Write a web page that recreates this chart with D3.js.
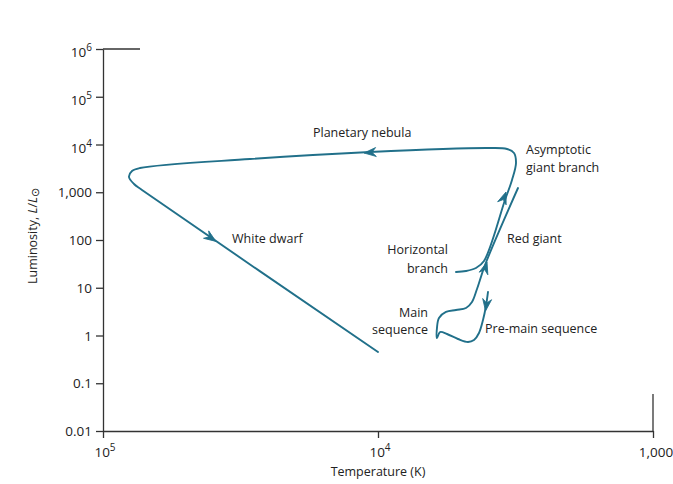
<!DOCTYPE html>
<html>
<head>
<meta charset="utf-8">
<script src="https://cdn.jsdelivr.net/npm/d3@7"></script>
<style>
body { margin: 0; background: #fff; }
text { font-family: "Open Sans", Lato, sans-serif; fill: #222; }
</style>
</head>
<body>
<svg id="chart" width="673" height="484"></svg>
<script>
var xTicks = [1e5, 1e4, 1e3];
var xTickLabels = ["10^5", "10^4", "1,000"];
var yTicks = [0.01, 0.1, 1, 10, 100, 1000, 1e4, 1e5, 1e6];
var yTickLabels = ["0.01", "0.1", "1", "10", "100", "1,000", "10^4", "10^5", "10^6"];

// pre-main sequence -> main sequence -> red giant tip   [T (K), L/Lsun]
var earlyTrack = [[3981, 8.15], [4049, 4.15], [4151, 2.11], [4293, 1.13], [4476, 0.805], [4707, 0.731],
    [5118, 0.845], [5612, 1.075], [5950, 1.18], [6103, 0.886], [6103, 1.44], [6001, 2.33], [5660, 3.11],
    [5205, 3.42], [4786, 3.77], [4552, 5.03], [4365, 9.42], [4081, 30.0], [3097, 1227]];

// horizontal branch -> asymptotic giant branch -> planetary nebula -> white dwarf
var lateTrack = [[5205, 21.4], [4786, 22.4], [4402, 25.9], [4117, 36.3], [3453, 688], [3256, 1805],
    [3149, 4100], [3202, 6637], [3395, 8051], [3915, 8450], [10693, 6966], [29214, 4970], [73370, 3220],
    [78440, 2786], [80450, 2086], [77140, 1489], [72140, 1115], [10000, 0.451]];

// direction arrows: [tail T, tail L, tip T, tip L]
var arrows = [[10168, 6966, 11242, 6637], [42220, 130.4, 38830, 93.5], [3541, 595.5, 3424, 1012],
    [4117, 21.4, 4014, 34.6], [4014, 5.54, 4064, 3.26]];

// annotations: [text, T, L, anchor]
var labels = [
    ["Planetary nebula", 17238, 14354, "start"],
    ["Asymptotic", 2896, 6324, "start"],
    ["giant branch", 2896, 2656, "start"],
    ["Red giant", 3395, 86.6, "start"],
    ["Horizontal", 5566, 50.9, "end"],
    ["branch", 5566, 20.4, "end"],
    ["Main", 6579, 2.44, "end"],
    ["sequence", 6579, 1.075, "end"],
    ["Pre-main sequence", 4081, 1.128, "start"],
    ["White dwarf", 33950, 86.6, "start"]
];

var lineColor = "#21708a";
var axisColor = "#333";

var svg = d3.select("#chart");

var x = d3.scaleLog().domain([1e5, 1e3]).range([103, 653]);
var y = d3.scaleLog().domain([0.01, 1e6]).range([431, 49]);

// writes "10^4" as 10 with a raised 4
function powerLabel(sel, s) {
    var parts = s.split("^");
    sel.append("tspan").text(parts[0]);
    if (parts.length > 1) {
        sel.append("tspan").attr("dy", -6).attr("font-size", 10).text(parts[1]);
    }
}

// axes
var yAxis = svg.append("g").attr("transform", "translate(" + x(1e5) + ",0)")
    .call(d3.axisLeft(y).tickValues(yTicks).tickSize(7).tickSizeOuter(0).tickFormat(""));
var xAxis = svg.append("g").attr("transform", "translate(0," + y(0.01) + ")")
    .call(d3.axisBottom(x).tickValues(xTicks).tickSize(7).tickSizeOuter(0).tickFormat(""));
[yAxis, xAxis].forEach(function(a) {
    a.selectAll("path, line").attr("stroke", axisColor).attr("stroke-width", 1.3);
});

// stubs at the far ends of both axes
svg.append("line").attr("x1", x(1e5)).attr("x2", x(1e5) + 37)
    .attr("y1", y(1e6)).attr("y2", y(1e6)).attr("stroke", axisColor).attr("stroke-width", 1.3);
svg.append("line").attr("x1", x(1e3)).attr("x2", x(1e3))
    .attr("y1", y(0.01)).attr("y2", y(0.01) - 37).attr("stroke", axisColor).attr("stroke-width", 1.3);

yTicks.forEach(function(v, i) {
    var t = svg.append("text")
        .attr("x", x(1e5) - 11)
        .attr("y", y(v) + (yTickLabels[i].indexOf("^") > 0 ? 8 : 5))
        .attr("text-anchor", "end")
        .attr("font-size", 13.5);
    powerLabel(t, yTickLabels[i]);
});
xTicks.forEach(function(v, i) {
    var t = svg.append("text")
        .attr("x", x(v) + (xTickLabels[i].indexOf("^") > 0 ? 2 : 3))
        .attr("y", 457)
        .attr("text-anchor", "middle")
        .attr("font-size", 13.5);
    powerLabel(t, xTickLabels[i]);
});

svg.append("text").attr("x", x(1e4)).attr("y", 476)
    .attr("text-anchor", "middle").attr("font-size", 12.5).text("Temperature (K)");

var yl = svg.append("text")
    .attr("transform", "translate(37,236) rotate(-90)")
    .attr("text-anchor", "middle").attr("font-size", 12.5);
yl.append("tspan").text("Luminosity, ");
yl.append("tspan").attr("font-style", "italic").text("L");
yl.append("tspan").text("/");
yl.append("tspan").attr("font-style", "italic").text("L");
yl.append("tspan").attr("dy", 2).attr("font-size", 11).text("\u2299");

// evolutionary tracks
var line = d3.line()
    .x(function(d) { return x(d[0]); })
    .y(function(d) { return y(d[1]); })
    .curve(d3.curveCatmullRom.alpha(0.5));

[earlyTrack, lateTrack].forEach(function(track) {
    svg.append("path")
        .attr("d", line(track))
        .attr("fill", "none")
        .attr("stroke", lineColor)
        .attr("stroke-width", 1.9)
        .attr("stroke-linejoin", "round")
        .attr("stroke-linecap", "round");
});

// arrowheads
arrows.forEach(function(a) {
    var x0 = x(a[0]), y0 = y(a[1]), x1 = x(a[2]), y1 = y(a[3]);
    var ang = Math.atan2(y1 - y0, x1 - x0) * 180 / Math.PI;
    svg.append("path")
        .attr("d", "M0,0 L-12,-4.5 L-8,0 L-12,4.5 Z")
        .attr("transform", "translate(" + x1 + "," + y1 + ") rotate(" + ang + ")")
        .attr("fill", lineColor)
        .attr("stroke", lineColor)
        .attr("stroke-width", 0.8)
        .attr("stroke-linejoin", "round");
});

labels.forEach(function(l) {
    svg.append("text")
        .attr("x", x(l[1]))
        .attr("y", y(l[2]))
        .attr("text-anchor", l[3])
        .attr("font-size", 12.5)
        .text(l[0]);
});
</script>
</body>
</html>
